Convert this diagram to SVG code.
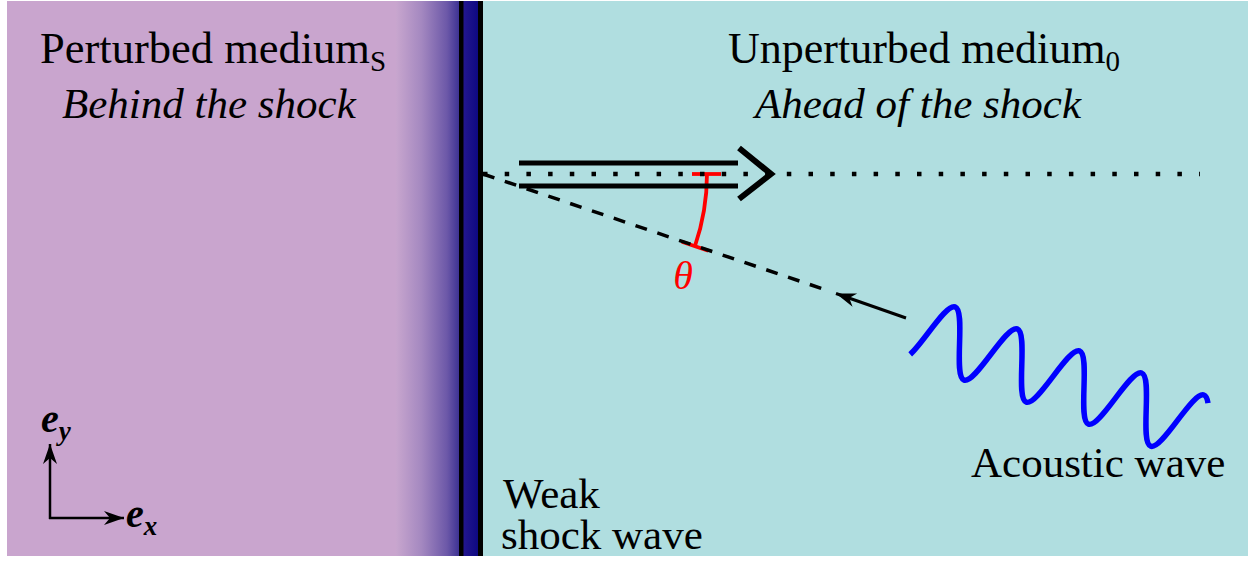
<svg xmlns="http://www.w3.org/2000/svg" width="1248" height="562" viewBox="0 0 1248 562">
  <style>
    .t { font-family: "Liberation Serif", "Times New Roman", serif; font-size: 43px; fill: #000; }
    .big { font-size: 44.5px; }
    .big2 { font-size: 44px; }
    .it { font-style: italic; }
    .sub { font-size: 29px; }
    .vec { font-family: "Liberation Serif", "Times New Roman", serif; font-weight: bold; font-style: italic; fill: #000; }
    .blk { fill: none; stroke: #000; }
    .red { fill: none; stroke: #FF0000; stroke-width: 3.8; }
  </style>
  <defs>
    <linearGradient id="shockGrad" gradientUnits="userSpaceOnUse" x1="396" y1="0" x2="481" y2="0">
      <stop offset="0" stop-color="#C8A6CE"/>
      <stop offset="0.3" stop-color="#A488C0"/>
      <stop offset="0.6" stop-color="#6C58A8"/>
      <stop offset="0.74" stop-color="#3E3394"/>
      <stop offset="0.8" stop-color="#22168E"/>
      <stop offset="1" stop-color="#0A0680"/>
    </linearGradient>
    <marker id="stealth" markerUnits="userSpaceOnUse" viewBox="-22 -10 24 20" refX="0" refY="0" markerWidth="24" markerHeight="20" orient="auto">
      <path d="M0,0 L-20,-7 L-14,0 L-20,7 Z" fill="#000"/>
    </marker>
  </defs>

  <rect width="1248" height="562" fill="#FFFFFF"/>

  <g id="medium-behind">
    <rect x="7" y="1" width="390" height="555" fill="#C9A5CE"/>
    <text class="t big" x="40" y="63">Perturbed medium<tspan class="sub" dy="8">S</tspan></text>
    <text class="t it" x="62" y="118">Behind the shock</text>
  </g>

  <g id="medium-ahead">
    <rect x="482" y="1" width="766" height="555" fill="#B0DEE0"/>
    <text class="t big2" x="728" y="63">Unperturbed medium<tspan class="sub" dy="8">0</tspan></text>
    <text class="t it" x="755" y="118">Ahead of the shock</text>
  </g>

  <g id="shock-wave">
    <rect x="396" y="1" width="86" height="555" fill="url(#shockGrad)"/>
    <rect x="459" y="1" width="4.5" height="555" fill="#000"/>
    <rect x="478" y="1" width="5" height="555" fill="#000"/>
    <text class="t" x="503" y="508">Weak</text>
    <text class="t" x="501" y="549">shock wave</text>
  </g>

  <g id="acoustic-wave">
    <path transform="translate(944,338) rotate(19.5)" fill="none" stroke="#0000FF" stroke-width="5.5" stroke-linecap="butt"
      d="M -26.4,26.7 C -23.1,20.6 -19.8,10.4 -16.5,0 C -11.12,-16.9 -5.97,-33 0,-33
         S 11.12,-16.9 16.5,0 S 27.03,33 33,33 S 44.12,16.9 49.5,0 S 60.03,-33 66,-33
         S 77.12,-16.9 82.5,0 S 93.03,33 99,33 S 110.12,16.9 115.5,0 S 126.03,-33 132,-33
         S 143.12,-16.9 148.5,0 S 159.03,33 165,33 S 176.12,16.9 181.5,0 S 192.03,-33 198,-33
         S 209.12,-16.9 214.5,0 S 225.03,33 231,33 S 242.12,16.9 247.5,0 S 258.03,-33 264,-33
         C 266.2,-33 268.4,-30.8 270.6,-26.7"/>
    <text class="t" x="971" y="477">Acoustic wave</text>
  </g>

  <g id="angle-theta">
    <line class="red" x1="692" y1="174" x2="721" y2="174"/>
    <line class="red" x1="681.8" y1="241.7" x2="708.3" y2="250.7"/>
    <path class="red" d="M 707,174 A 224 224 0 0 1 695,246"/>
    <text x="683" y="289" text-anchor="middle" font-family="'Liberation Serif', 'Times New Roman', serif" font-style="italic" font-size="40" fill="#FF0000">θ</text>
  </g>

  <g id="axes">
    <line class="blk" stroke-width="2.5" x1="50" y1="519" x2="50" y2="444" marker-end="url(#stealth)"/>
    <line class="blk" stroke-width="2.5" x1="49" y1="518" x2="124" y2="518" marker-end="url(#stealth)"/>
    <text class="vec" x="41" y="432" font-size="40">e<tspan font-size="27" dy="8">y</tspan></text>
    <text class="vec" x="126" y="527" font-size="40">e<tspan font-size="27" dy="8">x</tspan></text>
  </g>

  <g id="connectors">
    <line class="blk" x1="483" y1="174" x2="1200" y2="174" stroke-width="4.5" stroke-dasharray="4.5 17.2"/>
    <line class="blk" x1="519" y1="163" x2="738" y2="163" stroke-width="5"/>
    <line class="blk" x1="519" y1="186" x2="738" y2="186" stroke-width="5"/>
    <polyline class="blk" points="739,148 771,174 739,199" stroke-width="6" stroke-linejoin="miter"/>
    <line class="blk" x1="483" y1="174" x2="829" y2="291" stroke-width="3.5" stroke-dasharray="12 11"/>
    <line class="blk" x1="906" y1="318" x2="836" y2="293.5" stroke-width="3" marker-end="url(#stealth)"/>
  </g>
</svg>
